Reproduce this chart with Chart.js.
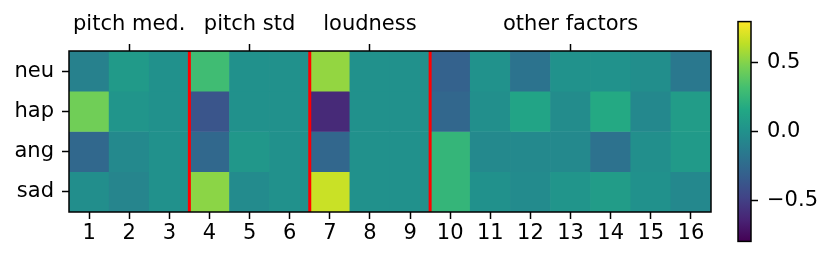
<!DOCTYPE html>
<html lang="en">
<head>
    <meta charset="UTF-8">
    <title>Prosody factor heatmap</title>
    <script src="https://cdn.jsdelivr.net/npm/chart.js"></script>
    <style>
        body { margin: 0; background: #fff; }
        #wrap { position: relative; width: 831px; height: 263px; }
        #heat { position: absolute; left: 0; top: 0; }
        #cbar { position: absolute; left: 720px; top: 0; }
    </style>
</head>
<body>
<div id="wrap">
    <canvas id="heat" width="831" height="263"></canvas>
    <canvas id="cbar" width="111" height="263"></canvas>
</div>

<script>
    // data
    const rows = ['neu', 'hap', 'ang', 'sad'];
    const cols = ['1', '2', '3', '4', '5', '6', '7', '8', '9', '10', '11', '12', '13', '14', '15', '16'];
    const neu = [-0.10, 0.06, 0.00, 0.30, 0.00, 0.00, 0.54, 0.00, 0.00, -0.30, 0.01, -0.19, 0.01, 0.01, -0.02, -0.16];
    const hap = [0.45, 0.03, 0.00, -0.38, 0.00, 0.00, -0.61, 0.00, 0.00, -0.27, -0.01, 0.13, -0.03, 0.17, -0.06, 0.08];
    const ang = [-0.26, -0.05, 0.00, -0.26, 0.04, 0.00, -0.27, 0.00, 0.00, 0.25, -0.05, -0.05, -0.05, -0.20, -0.01, 0.06];
    const sad = [-0.02, -0.08, 0.00, 0.52, -0.04, 0.00, 0.67, 0.00, 0.00, 0.25, 0.00, -0.04, 0.03, 0.08, 0.00, -0.06];
    const groupNames = ['pitch med.', 'pitch std', 'loudness', 'other factors'];
    const groupCols = ['2', '5', '8', '13'];
    const splitAfter = ['3', '6', '9'];
    const vmin = -0.8, vmax = 0.8;
    const cbarTicks = [-0.5, 0, 0.5];

    const values = [neu, hap, ang, sad];

    // viridis colormap stops
    const viridis = ['#440154', '#482475', '#414487', '#355f8d', '#2a788e', '#21918c',
                     '#22a884', '#44bf70', '#7ad151', '#bddf26', '#fde725'];

    function hexRgb(h) {
        return [parseInt(h.substr(1, 2), 16), parseInt(h.substr(3, 2), 16), parseInt(h.substr(5, 2), 16)];
    }

    function cmap(v) {
        let t = (v - vmin) / (vmax - vmin);
        t = Math.max(0, Math.min(1, t)) * (viridis.length - 1);
        const i = Math.min(Math.floor(t), viridis.length - 2);
        const f = t - i;
        const a = hexRgb(viridis[i]), b = hexRgb(viridis[i + 1]);
        const c = a.map((x, k) => Math.round(x + (b[k] - x) * f));
        return 'rgb(' + c.join(',') + ')';
    }

    Chart.defaults.font.family = "'DejaVu Sans', sans-serif";
    Chart.defaults.font.size = 21;
    Chart.defaults.color = '#000';

    const frame = {
        id: 'frame',
        afterDatasetsDraw(chart, args, opts) {
            const a = chart.chartArea, ctx = chart.ctx;
            ctx.save();
            if (opts.splits) {
                const x = chart.scales.x;
                ctx.strokeStyle = '#ff0000';
                ctx.lineWidth = 3;
                opts.splits.forEach(s => {
                    const px = x.getPixelForValue(cols.indexOf(s) + 0.5);
                    ctx.beginPath();
                    ctx.moveTo(px, a.top);
                    ctx.lineTo(px, a.bottom);
                    ctx.stroke();
                });
            }
            ctx.strokeStyle = '#000';
            ctx.lineWidth = 1.5;
            ctx.strokeRect(a.left, a.top, a.right - a.left, a.bottom - a.top);
            ctx.restore();
        }
    };

    const tickGrid = { drawOnChartArea: false, offset: false, tickLength: 7, tickWidth: 1.5, tickColor: '#000' };

    new Chart(document.getElementById('heat'), {
        type: 'bar',
        data: {
            labels: cols,
            datasets: rows.map((r, ri) => ({
                label: r,
                data: cols.map(() => [ri - 0.5, ri + 0.5]),
                backgroundColor: values[ri].map(cmap),
                borderWidth: 0,
                grouped: false,
                barPercentage: 1,
                categoryPercentage: 1
            }))
        },
        options: {
            responsive: false,
            animation: false,
            layout: { padding: { right: 120 } },
            plugins: {
                legend: { display: false },
                tooltip: { enabled: false },
                frame: { splits: splitAfter }
            },
            scales: {
                x: {
                    type: 'category',
                    position: 'bottom',
                    grid: tickGrid,
                    border: { display: false },
                    ticks: { padding: 2, maxRotation: 0, autoSkip: false },
                    afterFit: s => { s.height = 51; }
                },
                x2: {
                    type: 'category',
                    labels: cols,
                    position: 'top',
                    offset: true,
                    grid: {
                        drawOnChartArea: false,
                        offset: false,
                        tickLength: 7,
                        tickWidth: 1.5,
                        tickColor: c => groupCols.includes(cols[c.index]) ? '#000' : 'rgba(0,0,0,0)'
                    },
                    border: { display: false },
                    ticks: {
                        padding: 7,
                        maxRotation: 0,
                        autoSkip: false,
                        callback: (v, i) => {
                            const g = groupCols.indexOf(cols[i]);
                            return g >= 0 ? groupNames[g] : '';
                        }
                    },
                    afterFit: s => { s.height = 51; }
                },
                y: {
                    type: 'linear',
                    min: -0.5,
                    max: 3.5,
                    reverse: true,
                    grid: tickGrid,
                    border: { display: false },
                    afterBuildTicks: s => { s.ticks = rows.map((r, i) => ({ value: i })); },
                    ticks: { padding: 8, callback: v => rows[v] },
                    afterFit: s => { s.width = 69; }
                }
            }
        },
        plugins: [frame]
    });

    // colorbar
    new Chart(document.getElementById('cbar'), {
        type: 'bar',
        data: {
            labels: ['cb'],
            datasets: [{
                data: [[vmin, vmax]],
                backgroundColor: c => {
                    const ch = c.chart, y = ch.scales.y;
                    const top = y ? y.getPixelForValue(vmax) : NaN;
                    const bot = y ? y.getPixelForValue(vmin) : NaN;
                    if (!isFinite(top) || !isFinite(bot)) return '#21918c';
                    const g = ch.ctx.createLinearGradient(0, bot, 0, top);
                    viridis.forEach((col, i) => g.addColorStop(i / (viridis.length - 1), col));
                    return g;
                },
                borderWidth: 0,
                barPercentage: 1,
                categoryPercentage: 1
            }]
        },
        options: {
            responsive: false,
            animation: false,
            layout: { padding: { left: 18, top: 15, bottom: 16 } },
            plugins: { legend: { display: false }, tooltip: { enabled: false }, frame: {} },
            scales: {
                x: { display: false },
                y: {
                    position: 'right',
                    min: vmin,
                    max: vmax,
                    grid: tickGrid,
                    border: { display: false },
                    afterBuildTicks: s => { s.ticks = cbarTicks.map(v => ({ value: v })); },
                    ticks: {
                        padding: 9,
                        callback: v => (v < 0 ? '\u2212' : '') + Math.abs(v).toFixed(1)
                    },
                    afterFit: s => { s.width = 80; }
                }
            }
        },
        plugins: [frame]
    });
</script>
</body>
</html>
